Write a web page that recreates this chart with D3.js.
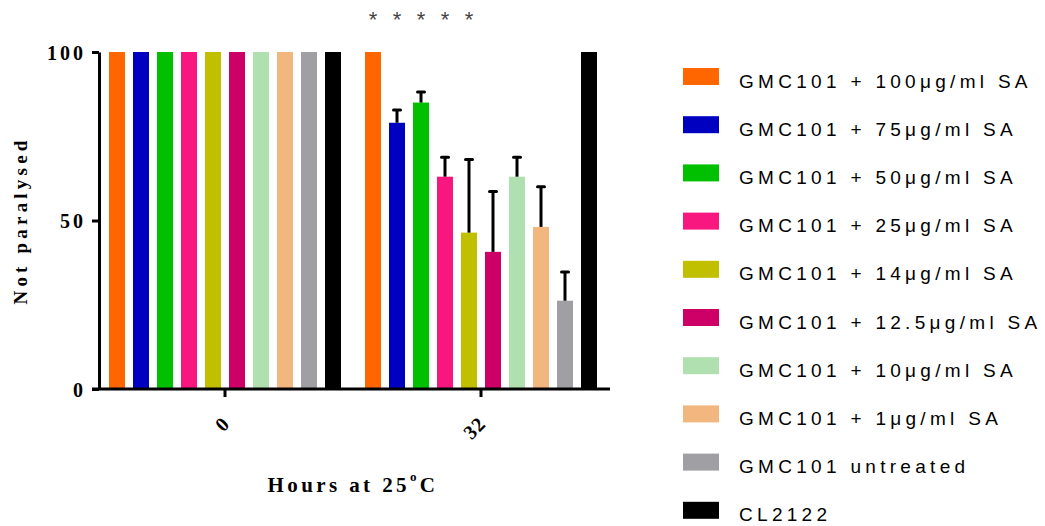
<!DOCTYPE html>
<html>
<head>
<meta charset="utf-8">
<script src="https://cdn.jsdelivr.net/npm/d3@7"></script>
<style>
  html, body { margin: 0; padding: 0; background: #fff; }
  svg { display: block; }
</style>
</head>
<body>
<svg id="chart" width="1045" height="526"></svg>
<script>
// ---- data ----
const hours = ["0", "32"];
const seriesNames = [
  "GMC101 + 100\u03bcg/ml SA",
  "GMC101 + 75\u03bcg/ml SA",
  "GMC101 + 50\u03bcg/ml SA",
  "GMC101 + 25\u03bcg/ml SA",
  "GMC101 + 14\u03bcg/ml SA",
  "GMC101 + 12.5\u03bcg/ml SA",
  "GMC101 + 10\u03bcg/ml SA",
  "GMC101 + 1\u03bcg/ml SA",
  "GMC101 untreated",
  "CL2122"
];
const seriesColors = ["#FF6600", "#0000C0", "#00C000", "#F8177F", "#C0C000",
                      "#CC0066", "#B0E0B0", "#F2B77E", "#A0A0A4", "#000000"];
const values0h  = [100, 100, 100, 100, 100, 100, 100, 100, 100, 100];
const errors0h  = [0, 0, 0, 0, 0, 0, 0, 0, 0, 0];
const values32h = [100, 79, 85, 63, 46.4, 40.7, 63, 48.1, 26.2, 100];
const errors32h = [0, 3.8, 3.1, 5.8, 21.7, 17.9, 5.8, 11.9, 8.5, 0];
const yTicks = [0, 50, 100];
const starSeries = [0, 1, 2, 3, 4]; // significance marks over the 32 h group

const valuesByHour = [values0h, values32h];
const errorsByHour = [errors0h, errors32h];

// ---- layout ----
const svg = d3.select("#chart");
const plotTop = 52, plotBottom = 389, axisLeftX = 99, axisRightX = 610;
const serif = "'Liberation Serif', 'Times New Roman', serif";
const sans = "'Liberation Sans', Arial, sans-serif";

const x = d3.scaleBand().domain(hours).range([97, 609]);
const xInner = d3.scaleBand().domain(d3.range(seriesNames.length))
  .range([-120, 120]).paddingInner(1 / 3).paddingOuter(1 / 6);
const y = d3.scaleLinear().domain([0, 100]).range([plotBottom, plotTop]);

const barX = (h, i) => x(h) + x.bandwidth() / 2 + xInner(i);

// bars
const barData = [];
hours.forEach((h, hi) => {
  valuesByHour[hi].forEach((v, i) => {
    barData.push({ h, i, v, e: errorsByHour[hi][i] });
  });
});

const gBars = svg.append("g");
gBars.selectAll("rect").data(barData).join("rect")
  .attr("x", d => barX(d.h, d.i))
  .attr("width", xInner.bandwidth())
  .attr("y", d => y(d.v))
  .attr("height", d => y(0) - y(d.v))
  .attr("fill", d => seriesColors[d.i]);

// error bars (upper only)
const errData = barData.filter(d => d.e > 0);
const gErr = svg.append("g").attr("stroke", "#000").attr("stroke-width", 3);
gErr.selectAll("line.stem").data(errData).join("line")
  .attr("class", "stem")
  .attr("x1", d => barX(d.h, d.i) + xInner.bandwidth() / 2)
  .attr("x2", d => barX(d.h, d.i) + xInner.bandwidth() / 2)
  .attr("y1", d => y(d.v))
  .attr("y2", d => y(d.v + d.e));
gErr.selectAll("line.cap").data(errData).join("line")
  .attr("class", "cap")
  .attr("stroke-linecap", "round")
  .attr("x1", d => barX(d.h, d.i) + xInner.bandwidth() / 2 - 3.5)
  .attr("x2", d => barX(d.h, d.i) + xInner.bandwidth() / 2 + 3.5)
  .attr("y1", d => y(d.v + d.e))
  .attr("y2", d => y(d.v + d.e));

// y axis
const yAxis = d3.axisLeft(y).tickValues(yTicks).tickSize(7).tickSizeOuter(0).tickPadding(6);
const gy = svg.append("g").attr("transform", `translate(${axisLeftX},0)`).call(yAxis);
gy.select(".domain").attr("stroke", "#000").attr("stroke-width", 3);
gy.selectAll(".tick line").attr("stroke", "#000").attr("stroke-width", 3);
gy.selectAll(".tick text")
  .attr("font-family", serif).attr("font-weight", "bold").attr("font-size", 20)
  .attr("letter-spacing", 3).attr("fill", "#000")
  .attr("x", -13).attr("dy", "0.35em");

// x axis
const xAxis = d3.axisBottom(x).tickSize(8).tickSizeOuter(0).tickFormat(d => d);
const gx = svg.append("g").attr("transform", `translate(0,${plotBottom})`).call(xAxis);
gx.select(".domain").remove();
gx.append("line").attr("x1", axisLeftX - 7).attr("x2", axisRightX)
  .attr("y1", 0).attr("y2", 0).attr("stroke", "#000").attr("stroke-width", 3);
gx.selectAll(".tick line").attr("stroke", "#000").attr("stroke-width", 3);
gx.selectAll(".tick text")
  .attr("font-family", serif).attr("font-weight", "bold").attr("font-size", 20)
  .attr("letter-spacing", 1).attr("fill", "#000")
  .attr("text-anchor", "end")
  .attr("y", 0).attr("dy", "0.35em")
  .attr("transform", "translate(1,31) rotate(-45)");

// axis titles
svg.append("text")
  .attr("transform", `translate(27,${(plotTop + plotBottom) / 2}) rotate(-90)`)
  .attr("text-anchor", "middle")
  .attr("font-family", serif).attr("font-weight", "bold").attr("font-size", 19)
  .attr("letter-spacing", 4.2)
  .text("Not paralysed");

const xt = svg.append("text")
  .attr("x", 353).attr("y", 492)
  .attr("text-anchor", "middle")
  .attr("font-family", serif).attr("font-weight", "bold").attr("font-size", 21)
  .attr("letter-spacing", 3.4);
xt.append("tspan").text("Hours at 25");
xt.append("tspan").attr("font-size", 13).attr("dy", -11).text("o");
xt.append("tspan").attr("dy", 11).text("C");

// significance stars
svg.append("g").selectAll("text").data(starSeries).join("text")
  .attr("x", i => barX("32", i) + xInner.bandwidth() / 2)
  .attr("y", 27)
  .attr("text-anchor", "middle")
  .attr("font-family", sans).attr("font-size", 22).attr("fill", "#444")
  .text("*");

// legend
const legend = svg.append("g").attr("transform", "translate(683,68)");
const rowH = 48.2;
const lg = legend.selectAll("g").data(seriesNames).join("g")
  .attr("transform", (d, i) => `translate(0,${i * rowH})`);
lg.append("rect").attr("width", 36).attr("height", 17)
  .attr("fill", (d, i) => seriesColors[i]);
lg.append("text").attr("x", 56).attr("y", 19.5)
  .attr("font-family", sans).attr("font-size", 19)
  .attr("letter-spacing", 4.3).attr("fill", "#000")
  .text(d => d);
</script>
</body>
</html>
